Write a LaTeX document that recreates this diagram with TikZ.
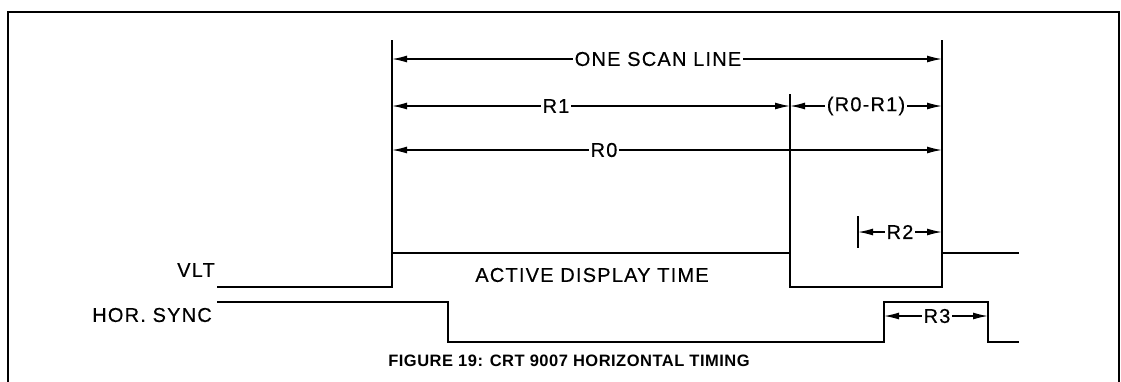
\documentclass[tikz,border=0pt]{standalone}
\usepackage{fontspec}
\setmainfont{Liberation Sans}
\newfontfamily\lblfont[LetterSpace=6,FakeBold=0.4]{Liberation Sans}
\newfontfamily\capfont[LetterSpace=3]{Liberation Sans}
\usetikzlibrary{arrows.meta}
\begin{document}
\begin{tikzpicture}[x=1pt,y=-1pt,
  sig/.style={line width=2.8pt,line cap=rect},
  ext/.style={line width=1.4pt},
  dimline/.style={line width=1.4pt,{Latex[length=15pt,width=7pt]}-{Latex[length=15pt,width=7pt]}},
  lbl/.style={fill=white,inner xsep=1.5pt,inner ysep=0pt,font=\lblfont\fontsize{20}{22}\selectfont},
  sigtext/.style={inner sep=0pt,font=\lblfont\fontsize{20}{22}\selectfont},
  captext/.style={inner sep=0pt,font=\capfont\bfseries\fontsize{16.5}{18}\selectfont},
  frm/.style={line width=2.2pt}]
\useasboundingbox (0,0) rectangle (1121,381);
\clip (0,0) rectangle (1121,381);
% frame
\coordinate (fbl) at (8,400);
\coordinate (ftl) at (8,12);
\coordinate (ftr) at (1119,12);
\coordinate (fbr) at (1119,400);
\draw[frm] (fbl) -- (ftl) -- (ftr) -- (fbr);
% extension lines
\coordinate (e1t) at (392,40);  \coordinate (e1b) at (392,253);
\coordinate (e2t) at (790,94);  \coordinate (e2b) at (790,253);
\coordinate (e3t) at (942,40);  \coordinate (e3b) at (942,253);
\coordinate (e4t) at (858,216); \coordinate (e4b) at (858,248);
\draw[ext] (e1t) -- (e1b);
\draw[ext] (e2t) -- (e2b);
\draw[ext] (e3t) -- (e3b);
\draw[ext] (e4t) -- (e4b);
% dimension lines
\coordinate (osl) at (392,59); \coordinate (osr) at (942,59);
\draw[dimline] (osl) -- (osr);
\node[lbl] (lone) at (658,59) {ONE SCAN LINE};
\coordinate (r1l) at (392,106); \coordinate (r1r) at (790,106);
\draw[dimline] (r1l) -- (r1r);
\node[lbl] (lr1) at (556,106) {R1};
\coordinate (r01l) at (790,106); \coordinate (r01r) at (942,106);
\draw[dimline] (r01l) -- (r01r);
\node[lbl] (lr01) at (866,106) {(R0-R1)};
\coordinate (r0l) at (392,150); \coordinate (r0r) at (942,150);
\draw[dimline] (r0l) -- (r0r);
\node[lbl] (lr0) at (604,150) {R0};
\coordinate (r2l) at (858,232); \coordinate (r2r) at (942,232);
\draw[dimline] (r2l) -- (r2r);
\node[lbl] (lr2) at (900,232) {R2};
\coordinate (r3l) at (884,316); \coordinate (r3r) at (988,316);
\draw[dimline] (r3l) -- (r3r);
\node[lbl] (lr3) at (937,316) {R3};
% VLT signal
\coordinate (v0) at (218,287);
\coordinate (v1) at (392,287);
\coordinate (v2) at (392,253);
\coordinate (v3) at (790,253);
\coordinate (v4) at (790,287);
\coordinate (v5) at (942,287);
\coordinate (v6) at (942,253);
\coordinate (v7) at (1018,253);
\draw[sig] (v0) -- (v1) -- (v2) -- (v3) -- (v4) -- (v5) -- (v6) -- (v7);
% HOR SYNC signal
\coordinate (h0) at (218,302);
\coordinate (h1) at (448,302);
\coordinate (h2) at (448,342);
\coordinate (h3) at (884,342);
\coordinate (h4) at (884,302);
\coordinate (h5) at (988,302);
\coordinate (h6) at (988,342);
\coordinate (h7) at (1018,342);
\draw[sig] (h0) -- (h1) -- (h2) -- (h3) -- (h4) -- (h5) -- (h6) -- (h7);
% labels
\node[sigtext,anchor=east] (lvlt) at (215,270) {VLT};
\node[sigtext,anchor=east] (lhs) at (212,315) {HOR. SYNC};
\node[sigtext] (ladt) at (592,275) {ACTIVE DISPLAY TIME};
\node[captext] (cap) at (569,361) {FIGURE 19: CRT 9007 HORIZONTAL TIMING};
\end{tikzpicture}
\end{document}
